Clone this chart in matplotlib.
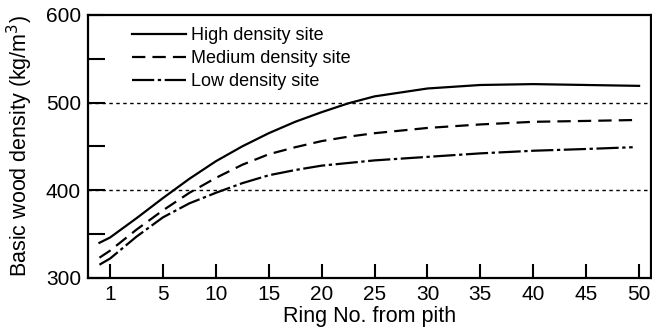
import matplotlib
matplotlib.use("Agg")
import matplotlib.pyplot as plt

plt.rcParams['font.family'] = ['Liberation Sans', 'DejaVu Sans']

# plot positions of the curves (the "1" tick sits at position 0 in the original)
rings_high = [-1, 0, 2.5, 5, 7.5, 10, 12.5, 15, 17.5, 20, 22.5, 25, 30, 35, 40, 45, 50]
rings_other = [-1, 0, 2.5, 5, 7.5, 10, 12.5, 15, 17.5, 20, 22.5, 25, 30, 35, 40, 45, 49.4]

high = [340, 346, 368, 391, 413, 433, 450, 465, 478, 489, 499, 507, 516, 520, 521, 520, 519]
medium = [323, 331, 355, 377, 397, 414, 429, 441, 449, 456, 461, 465, 471, 475, 478, 479, 480]
low = [315, 322, 347, 369, 385, 397, 408, 417, 423, 428, 431, 434, 438, 442, 445, 447, 449]

series_labels = ['High density site', 'Medium density site', 'Low density site']

x_ticks = [0, 5, 10, 15, 20, 25, 30, 35, 40, 45, 50]
x_labels = ['1', '5', '10', '15', '20', '25', '30', '35', '40', '45', '50']
y_ticks = [300, 350, 400, 450, 500, 550, 600]
y_labels = ['300', '', '400', '', '500', '', '600']
ref_levels = [400, 500]


def main():
    fig = plt.figure(figsize=(6.52, 3.30), dpi=100)
    ax = fig.add_axes([0.135, 0.158, 0.863, 0.797])

    for lvl in ref_levels:
        ax.axhline(lvl, color='black', lw=1.0, ls=(0, (2.5, 2.5)), zorder=1)

    ax.plot(rings_high, high, color='black', lw=1.6, ls='-', label=series_labels[0])
    ax.plot(rings_other, medium, color='black', lw=1.6, ls=(0, (6, 3.2)), label=series_labels[1])
    ax.plot(rings_other, low, color='black', lw=1.6, ls=(0, (10, 1.6, 1.5, 1.6)), label=series_labels[2])

    ax.set_xlim(-2.08, 51.1)
    ax.set_ylim(300, 600)
    ax.set_xticks(x_ticks)
    ax.set_xticklabels(x_labels)
    ax.set_yticks(y_ticks)
    ax.set_yticklabels(y_labels)

    ax.tick_params(axis='y', direction='in', length=12, width=1.5, pad=5, labelsize=15)
    ax.tick_params(axis='x', direction='in', length=10, width=1.5, pad=5, labelsize=15)
    for sp in ax.spines.values():
        sp.set_linewidth(1.6)

    ax.set_xlabel('Ring No. from pith', fontsize=15.5, labelpad=1.5)
    ax.set_ylabel('Basic wood density (kg/m$^3$)', fontsize=15.5, labelpad=8)

    ax.legend(loc='upper left', bbox_to_anchor=(0.055, 1.0), frameon=False,
              fontsize=13, handlelength=3.0, handletextpad=0.3,
              labelspacing=0.32, borderaxespad=0.3)

    fig.savefig('out.png', dpi=100)


if __name__ == "__main__":
    main()
